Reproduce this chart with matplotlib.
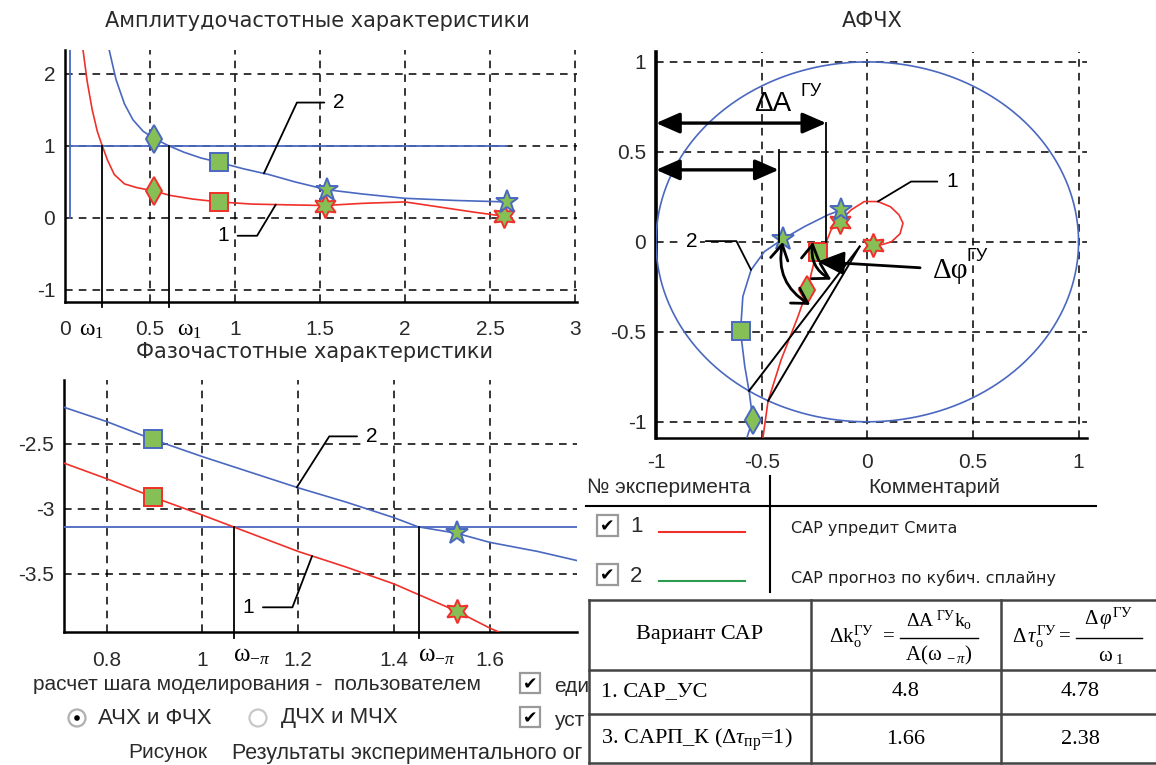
import numpy as np
import matplotlib
matplotlib.use('Agg')
import matplotlib.pyplot as plt
from matplotlib.patches import Rectangle, Circle, FancyArrowPatch

plt.rcParams['font.family'] = ['Liberation Sans', 'DejaVu Sans']
plt.rcParams['mathtext.fontset'] = 'custom'
plt.rcParams['mathtext.rm'] = 'Liberation Serif'
plt.rcParams['mathtext.it'] = 'Liberation Serif:italic'
plt.rcParams['mathtext.bf'] = 'Liberation Serif:bold'
plt.rcParams['mathtext.sf'] = 'Liberation Sans'

RED = '#f0302a'
BLUE = '#4a68c0'
GREEN = '#86bf55'
TXT = '#2a2a2a'

# ---- АЧХ: 1 - САР упредит Смита (red), 2 - прогноз по сплайну (blue)
amp_w1 = [0.106, 0.13, 0.16, 0.19, 0.21, 0.25, 0.29, 0.35, 0.42, 0.526, 0.62, 0.75, 0.905,
          1.1, 1.3, 1.527, 1.75, 2.0, 2.2, 2.4, 2.585]
amp_a1 = [2.33, 1.90, 1.50, 1.20, 1.06, 0.80, 0.60, 0.47, 0.42, 0.37, 0.31, 0.26, 0.22,
          0.19, 0.18, 0.17, 0.20, 0.22, 0.15, 0.08, 0.02]
amp_w2 = [0.26, 0.30, 0.35, 0.40, 0.46, 0.526, 0.61, 0.70, 0.80, 0.905, 1.05, 1.2, 1.35,
          1.54, 1.75, 2.0, 2.3, 2.6]
amp_a2 = [2.33, 1.92, 1.58, 1.36, 1.20, 1.10, 1.00, 0.91, 0.83, 0.77, 0.68, 0.60, 0.50,
          0.39, 0.33, 0.27, 0.24, 0.22]
amp_mk_w1 = [0.526, 0.905, 1.527, 2.585]
amp_mk_a1 = [0.37, 0.22, 0.17, 0.02]
amp_mk_w2 = [0.526, 0.905, 1.54, 2.60]
amp_mk_a2 = [1.10, 0.77, 0.39, 0.22]

# ---- ФЧХ
ph_w1 = [0.711, 0.80, 0.896, 1.00, 1.10, 1.20, 1.30, 1.40, 1.531, 1.60, 1.625]
ph_1 = [-2.65, -2.77, -2.91, -3.05, -3.19, -3.33, -3.45, -3.58, -3.79, -3.92, -3.96]
ph_w2 = [0.711, 0.80, 0.896, 1.00, 1.10, 1.20, 1.30, 1.40, 1.45, 1.531, 1.60, 1.70, 1.782]
ph_2 = [-2.22, -2.33, -2.467, -2.60, -2.72, -2.84, -2.95, -3.07, -3.14, -3.19, -3.26, -3.33, -3.40]
ph_mk_w1 = [0.896, 1.531]
ph_mk_1 = [-2.91, -3.79]
ph_mk_w2 = [0.896, 1.531]
ph_mk_2 = [-2.467, -3.19]

# ---- АФЧХ
nyq_re1 = [-0.494, -0.47, -0.408, -0.328, -0.284, -0.253, -0.231, -0.194, -0.171, -0.132, -0.076,
           -0.014, 0.05, 0.11, 0.15, 0.169, 0.155, 0.114, 0.07, 0.027]
nyq_im1 = [-1.09, -0.887, -0.656, -0.415, -0.267, -0.118, -0.054, 0.0, 0.067, 0.113, 0.178,
           0.224, 0.224, 0.195, 0.15, 0.104, 0.045, 0.0, -0.015, -0.017]
nyq_re2 = [-0.573, -0.542, -0.558, -0.58, -0.60, -0.589, -0.55, -0.487, -0.40, -0.297, -0.186, -0.123]
nyq_im2 = [-1.10, -0.989, -0.84, -0.69, -0.498, -0.304, -0.156, -0.054, 0.015, 0.085, 0.15, 0.178]
nyq_mk_re1 = [-0.284, -0.231, -0.131, 0.027]
nyq_mk_im1 = [-0.267, -0.054, 0.113, -0.017]
nyq_mk_re2 = [-0.542, -0.60, -0.40, -0.123]
nyq_mk_im2 = [-0.989, -0.498, 0.015, 0.178]

# ---- таблица
tab_rows = ['1. САР_УС', r'3. САРП_К ($\Delta\tau_{\mathrm{пр}}$=1)']
tab_dk = ['4.8', '1.66']
tab_dt = ['4.78', '2.38']

W, H = 1156, 765
fig = plt.figure(figsize=(W / 100, H / 100), dpi=100, facecolor='white')


def px_axes(l, t, r, b):
    return fig.add_axes([l / W, 1 - b / H, (r - l) / W, (b - t) / H])


def style(ax, xt, xl, yt, yl, xpad):
    ax.set_xticks(xt)
    ax.set_xticklabels(xl)
    ax.set_yticks(yt)
    ax.set_yticklabels(yl)
    ax.tick_params(length=0, labelsize=15, labelcolor=TXT)
    ax.tick_params(axis='x', pad=xpad)
    ax.tick_params(axis='y', pad=7)
    ax.grid(True, color='black', ls=(0, (5, 4)), lw=1.1)
    ax.set_axisbelow(True)
    for s in ['top', 'right']:
        ax.spines[s].set_visible(False)
    for s in ['left', 'bottom']:
        ax.spines[s].set_linewidth(1.8)


def marks(ax, xs, ys, edge, star):
    shapes = ['d', 's', star, star]
    sizes = [14, 13, 17, 17]
    for x, y, m, s in zip(xs, ys, shapes, sizes):
        ax.plot(x, y, marker=m, ms=s, mfc=GREEN, mec=edge, mew=1.4, ls='none', zorder=6)


def marks2(ax, xs, ys, edge, star):
    for x, y, m in zip(xs, ys, ['s', star]):
        ax.plot(x, y, marker=m, ms=13 if m == 's' else 17, mfc=GREEN, mec=edge, mew=1.4,
                ls='none', zorder=6)


def leader(ax, label, xy, xytext, angle, fs=15):
    ax.annotate(label, xy=xy, xytext=xytext, fontsize=fs, color='black', ha='center', va='center',
                bbox=dict(boxstyle='square,pad=0.15', fc='white', ec='none'), zorder=8,
                arrowprops=dict(arrowstyle='-', lw=1.3, color='black', shrinkA=4, shrinkB=0,
                                connectionstyle='angle,angleA=0,angleB=%g,rad=0' % angle))


HEX = (6, 1, 0)

# ================= АЧХ =================
ax1 = px_axes(65, 50, 577, 302)
ax1.set_xlim(0, 3.012)
ax1.set_ylim(-1.17, 2.33)
style(ax1, [0, 0.5, 1, 1.5, 2, 2.5, 3], ['0', '0.5', '1', '1.5', '2', '2.5', '3'],
      [-1, 0, 1, 2], ['-1', '0', '1', '2'], 13)
ax1.plot([0.03, amp_w2[-1]], [1, 1], color=BLUE, lw=1.3, zorder=3)
ax1.plot([0.03, 0.03], [0, 2.33], color=BLUE, lw=1.3, zorder=3)
ax1.plot(amp_w1, amp_a1, color=RED, lw=1.2, zorder=4)
ax1.plot(amp_w2, amp_a2, color=BLUE, lw=1.2, zorder=4)
marks(ax1, amp_mk_w1, amp_mk_a1, RED, HEX)
marks(ax1, amp_mk_w2, amp_mk_a2, BLUE, '*')
for w, a, dx in [(amp_w1, amp_a1, -0.065), (amp_w2, amp_a2, 0.12)]:
    xc = np.interp(1.0, a[::-1], w[::-1])
    ax1.plot([xc, xc], [-1.24, 1.0], color='black', lw=1.3, clip_on=False, zorder=5)
    ax1.text(xc + dx, -0.11, r'$\mathrm{\omega}_1$', transform=ax1.get_xaxis_transform(),
             ha='center', va='center', fontsize=17)
leader(ax1, '2', (1.17, np.interp(1.17, amp_w2, amp_a2)), (1.61, 1.60), 65)
leader(ax1, '1', (1.24, np.interp(1.24, amp_w1, amp_a1)), (0.93, -0.25), 59)

# ================= ФЧХ =================
ax2 = px_axes(64, 380, 577, 632)
ax2.set_xlim(0.711, 1.782)
ax2.set_ylim(-3.95, -2.01)
style(ax2, [0.8, 1.0, 1.2, 1.4, 1.6], ['0.8', '1', '1.2', '1.4', '1.6'],
      [-3.5, -3, -2.5], ['-3.5', '-3', '-2.5'], 14)
ax2.axhline(-np.pi, color=BLUE, lw=1.3, zorder=3)
ax2.plot(ph_w1, ph_1, color=RED, lw=1.2, zorder=4)
ax2.plot(ph_w2, ph_2, color=BLUE, lw=1.2, zorder=4)
marks2(ax2, ph_mk_w1, ph_mk_1, RED, HEX)
marks2(ax2, ph_mk_w2, ph_mk_2, BLUE, '*')
for w, p in [(ph_w1, ph_1), (ph_w2, ph_2)]:
    xc = np.interp(-np.pi, p[::-1], w[::-1])
    ax2.plot([xc, xc], [-4.0, -np.pi], color='black', lw=1.3, clip_on=False, zorder=5)
    ax2.text(xc - 0.002, -0.09, r'$\mathrm{\omega}_{-\pi}$', transform=ax2.get_xaxis_transform(),
             ha='left', va='center', fontsize=18)
leader(ax2, '2', (1.197, np.interp(1.197, ph_w2, ph_2)), (1.353, -2.444), 57.5)
leader(ax2, '1', (1.229, np.interp(1.229, ph_w1, ph_1)), (1.096, -3.76), 69)

# ================= АФЧХ =================
ax3 = px_axes(656, 52, 1087, 438)
ax3.set_xlim(-1, 1.04)
ax3.set_ylim(-1.09, 1.055)
style(ax3, [-1, -0.5, 0, 0.5, 1], ['-1', '-0.5', '0', '0.5', '1'],
      [-1, -0.5, 0, 0.5, 1], ['-1', '-0.5', '0', '0.5', '1'], 11)
ax3.spines['left'].set_linewidth(2.6)
t = np.linspace(0, 2 * np.pi, 361)
ax3.plot(np.cos(t), np.sin(t), color=BLUE, lw=1.2, zorder=3)
ax3.plot(nyq_re1, nyq_im1, color=RED, lw=1.2, zorder=4)
ax3.plot(nyq_re2, nyq_im2, color=BLUE, lw=1.2, zorder=4)
marks(ax3, nyq_mk_re1, nyq_mk_im1, RED, HEX)
marks(ax3, nyq_mk_re2, nyq_mk_im2, BLUE, '*')


def cross(re, im, r_fun):
    re, im = np.asarray(re), np.asarray(im)
    v = r_fun(re, im)
    i = np.where(np.sign(v[:-1]) != np.sign(v[1:]))[0][0]
    f = v[i] / (v[i] - v[i + 1])
    return re[i] + f * (re[i + 1] - re[i]), im[i] + f * (im[i + 1] - im[i])


# пересечения с вещественной осью и единичной окружностью
rc1 = cross(nyq_re1, nyq_im1, lambda a, b: b)
rc2 = cross(nyq_re2, nyq_im2, lambda a, b: b)
uc1 = cross(nyq_re1, nyq_im1, lambda a, b: np.hypot(a, b) - 1)
uc2 = cross(nyq_re2, nyq_im2, lambda a, b: np.hypot(a, b) - 1)

for xc, ya, ytop in [(rc1[0], 0.66, 0.66), (rc2[0], 0.40, 0.51)]:
    ax3.plot([xc, xc], [ytop, 0.0], color='black', lw=1.3, zorder=7)
    ax3.add_patch(FancyArrowPatch((-1.0, ya), (xc, ya), arrowstyle='<|-|>,head_length=0.8,head_width=0.35',
                                  mutation_scale=18, lw=2.4, color='black', shrinkA=0, shrinkB=0,
                                  zorder=7, clip_on=False))
org = (-0.036, -0.026)
for uc in [uc1, uc2]:
    ax3.plot([org[0], uc[0]], [org[1], uc[1]], color='black', lw=1.4, zorder=7)
for a, b, rad in [((-0.40, 0.0), (-0.27, -0.35), 0.35), ((-0.257, 0.0), (-0.17, -0.21), 0.35)]:
    ax3.add_patch(FancyArrowPatch(a, b, arrowstyle='<->,head_length=0.6,head_width=0.35',
                                  connectionstyle='arc3,rad=%g' % rad, mutation_scale=18,
                                  lw=2.0, color='black', shrinkA=0, shrinkB=0, zorder=7))
ax3.add_patch(FancyArrowPatch((0.25, -0.144), (-0.235, -0.11), arrowstyle='-|>,head_length=0.9,head_width=0.4',
                              mutation_scale=18, lw=2.0, color='black', shrinkA=0, shrinkB=0, zorder=7))
ax3.text(-0.535, 0.765, 'ΔA', fontsize=20, ha='left', va='center', color='black', zorder=8)
ax3.text(-0.315, 0.835, 'ГУ', fontsize=13, ha='left', va='center', color='black', zorder=8)
ax3.text(0.31, -0.16, 'Δφ', fontsize=21, family=['Liberation Serif', 'DejaVu Serif'],
         ha='left', va='center', color='black', zorder=8)
ax3.text(0.47, -0.08, 'ГУ', fontsize=13, ha='left', va='center', color='black', zorder=8)
leader(ax3, '1', (nyq_re1[12], nyq_im1[12]), (0.40, 0.335), 31)
leader(ax3, '2', (nyq_re2[6], nyq_im2[6]), (-0.833, 0.004), 117)

# ================= overlay (pixels) =================
ov = fig.add_axes([0, 0, 1, 1], zorder=10)
ov.set_xlim(0, W)
ov.set_ylim(H, 0)
ov.axis('off')
ov.patch.set_visible(False)

ov.text(317, 21, 'Амплитудочастотные характеристики', ha='center', va='center', fontsize=15,
        family='DejaVu Sans', color=TXT)
ov.text(315, 352, 'Фазочастотные характеристики', ha='center', va='center', fontsize=15,
        family='DejaVu Sans', color=TXT)
ov.text(872, 21, 'АФЧХ', ha='center', va='center', fontsize=15, family='DejaVu Sans', color=TXT)


def checkbox(x, y, s=20):
    ov.add_patch(Rectangle((x, y), s, s, fc='white', ec='#9a9a9a', lw=1.6))
    ov.text(x + s / 2, y + s / 2 + 1, '✔', family='DejaVu Sans', fontsize=12.5, ha='center',
            va='center', color='black')


# controls under the left plots
ov.text(33, 684, 'расчет шага моделирования -  пользователем', fontsize=15, va='center', color=TXT)
checkbox(520, 673)
ov.text(554, 686, 'еди', fontsize=15, va='center', color=TXT, zorder=1)
ov.add_patch(Circle((77, 718), 8.5, fc='white', ec='#b0b0b0', lw=1.6))
ov.add_patch(Circle((77, 718), 2.8, fc='black', ec='none'))
ov.text(98, 718, 'АЧХ и ФЧХ', fontsize=16, va='center', color=TXT)
ov.add_patch(Circle((258, 718), 8.5, fc='white', ec='#c8c8c8', lw=1.6))
ov.text(281, 718, 'ДЧХ и МЧХ', fontsize=16, va='center', color=TXT)
checkbox(520, 707)
ov.text(554, 720, 'уст', fontsize=15, va='center', color=TXT, zorder=1)
ov.text(128, 753, 'Рисунок', fontsize=15, va='center', color=TXT)
ov.text(232, 753, 'Результаты экспериментального ог', fontsize=15.5, va='center', color=TXT,
        zorder=1)

# legend of experiments
ov.text(587, 487, '№ эксперимента', fontsize=15, va='center', color=TXT)
ov.text(934, 487, 'Комментарий', fontsize=15, va='center', ha='center', color=TXT)
ov.plot([586, 1096], [506, 506], color='black', lw=1.5)
ov.plot([770, 770], [476, 592], color='black', lw=1.5)
leg = [('1', RED, 'САР упредит Смита', 528), ('2', '#2e9a50', 'САР прогноз по кубич. сплайну', 577)]
for num, col, com, y in leg:
    checkbox(597, y - 13, 21)
    ov.text(630, y - 1, num, fontsize=16, va='center', color=TXT)
    ov.plot([659, 745], [y + 4, y + 4], color=col, lw=1.5)
    ov.text(791, y + 1, com, fontsize=11.5, va='center', family='DejaVu Sans', color='#202020')

# table
ov.add_patch(Rectangle((589, 600), 600, 163, fc='white', ec='none', zorder=2))
for xs, ys in [([589, 1160], [600, 600]), ([589, 1160], [670, 670]), ([589, 1160], [714, 714]),
               ([589, 1160], [763, 763]), ([589, 589], [600, 763]), ([811, 811], [600, 763]),
               ([1001, 1001], [600, 763])]:
    ov.plot(xs, ys, color='#444444', lw=1.8, zorder=3, clip_on=False)
ov.text(700, 635, 'Вариант САР', family='Liberation Serif', fontsize=16, ha='center', va='center',
        zorder=4)
# Δk_o^ГУ = ΔA^ГУ k_o / A(ω_-π)
ov.text(829, 637, r'$\Delta\mathrm{k}_{\mathrm{o}}^{\mathrm{ГУ}}$', fontsize=15, ha='left', va='center', zorder=4)
ov.text(883, 637, '=', family='Liberation Serif', fontsize=15, ha='left', va='center', zorder=4)
ov.plot([900, 978], [638, 638], color='black', lw=1.0, zorder=4)
ov.text(939, 620, r'$\Delta\mathrm{A}^{\ \mathrm{ГУ}}\mathrm{k}_{\mathrm{o}}$', fontsize=14, ha='center',
        va='center', zorder=4)
ov.text(939, 655, r'$\mathrm{A}(\mathrm{\omega}_{\ -\pi})$', fontsize=15, ha='center', va='center', zorder=4)
# Δτ_o^ГУ = Δφ^ГУ / ω_1
ov.text(1012, 637, r'$\Delta\,\tau_{\mathrm{o}}^{\mathrm{ГУ}}$', fontsize=15, ha='left', va='center', zorder=4)
ov.text(1059, 637, '=', family='Liberation Serif', fontsize=15, ha='left', va='center', zorder=4)
ov.plot([1076, 1142], [638, 638], color='black', lw=1.0, zorder=4)
ov.text(1109, 619, r'$\Delta\,\varphi^{\mathrm{ГУ}}$', fontsize=15, ha='center', va='center', zorder=4)
ov.text(1111, 656, r'$\mathrm{\omega}_{\ 1}$', fontsize=15, ha='center', va='center', zorder=4)
for row, dk, dt, y in zip(tab_rows, tab_dk, tab_dt, [692, 740]):
    ov.text(601, y, row, family='Liberation Serif', fontsize=16, va='center', zorder=4)
    ov.text(906, y, dk, family='Liberation Serif', fontsize=16, va='center', ha='center', zorder=4)
    ov.text(1080, y, dt, family='Liberation Serif', fontsize=16, va='center', ha='center', zorder=4)

fig.savefig('out.png', dpi=100, facecolor='white')
